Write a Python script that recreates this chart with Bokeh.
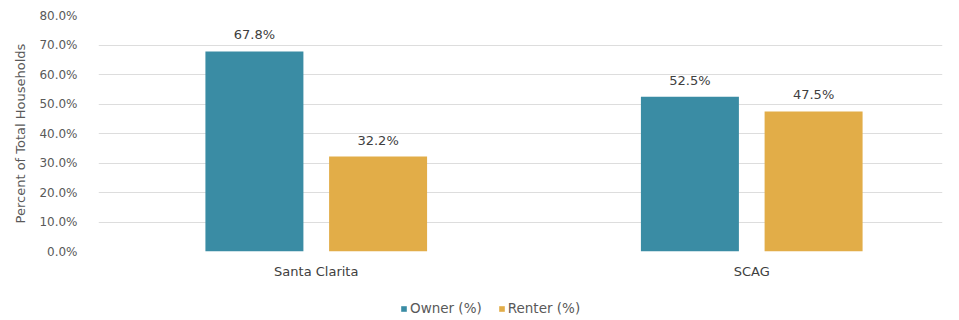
from bokeh.plotting import figure
from bokeh.layouts import column
from bokeh.models import ColumnDataSource, PrintfTickFormatter, FixedTicker, Legend, LegendItem, Range1d
from bokeh.core.properties import value
from bokeh.embed import file_html
from bokeh.resources import INLINE

categories = ["Santa Clarita", "SCAG"]
owner = [67.8, 52.5]
renter = [32.2, 47.5]
series_names = ["Owner (%)", "Renter (%)"]
y_ticks = [0, 10, 20, 30, 40, 50, 60, 70, 80]

OWNER_C = "#3A8CA4"
RENTER_C = "#E2AD48"
FONT = "DejaVu Sans"

xs = list(range(len(categories)))
off = 0.142
bw = 0.225

src_o = ColumnDataSource(dict(x=[x - off for x in xs], top=owner,
                              lab=["%.1f%%" % v for v in owner]))
src_r = ColumnDataSource(dict(x=[x + off for x in xs], top=renter,
                              lab=["%.1f%%" % v for v in renter]))

p = figure(frame_width=844, frame_height=236, output_backend="svg", toolbar_location=None,
           x_range=Range1d(-0.5, 1.438), y_range=Range1d(0, 80))
p.min_border_left = 98
p.min_border_right = 9
p.min_border_top = 15
p.min_border_bottom = 45
p.outline_line_color = None
p.background_fill_color = "white"

r_o = p.vbar(x="x", top="top", width=bw, source=src_o, fill_color=OWNER_C, line_color=None)
r_r = p.vbar(x="x", top="top", width=bw, source=src_r, fill_color=RENTER_C, line_color=None)

for s in (src_o, src_r):
    p.text(x="x", y="top", text="lab", source=s, text_align="center", text_baseline="bottom",
           y_offset=-9, text_font=value(FONT), text_font_size="13px", text_color="#404040")

p.xgrid.grid_line_color = None
p.ygrid.grid_line_color = "#DDDDDD"
p.ygrid.ticker = FixedTicker(ticks=y_ticks)

p.yaxis.ticker = FixedTicker(ticks=y_ticks)
p.yaxis.formatter = PrintfTickFormatter(format="%.1f%%")
p.yaxis.axis_line_color = None
p.yaxis.major_tick_line_color = None
p.yaxis.minor_tick_line_color = None
p.yaxis.major_label_text_font = FONT
p.yaxis.major_label_text_font_size = "12px"
p.yaxis.major_label_text_color = "#595959"
p.yaxis.major_label_standoff = 15
p.yaxis.axis_label = "Percent of Total Households"
p.yaxis.axis_label_text_font = FONT
p.yaxis.axis_label_text_font_size = "13px"
p.yaxis.axis_label_text_font_style = "normal"
p.yaxis.axis_label_text_color = "#595959"
p.yaxis.axis_label_standoff = 8

p.xaxis.ticker = FixedTicker(ticks=xs)
p.xaxis.major_label_overrides = {i: c for i, c in enumerate(categories)}
p.xaxis.axis_line_color = None
p.xaxis.major_tick_line_color = None
p.xaxis.minor_tick_line_color = None
p.xaxis.major_label_text_font = FONT
p.xaxis.major_label_text_font_size = "13px"
p.xaxis.major_label_text_color = "#404040"
p.xaxis.major_label_standoff = 6

# legend strip below the chart (renderers sit outside its visible range)
p2 = figure(width=951, height=24, output_backend="svg", toolbar_location=None,
            x_range=Range1d(-0.5, 1.438), y_range=Range1d(1000, 1001))
p2.min_border_left = 0
p2.min_border_right = 0
p2.min_border_top = 0
p2.min_border_bottom = 0
p2.outline_line_color = None
p2.axis.visible = False
p2.grid.visible = False
l_o = p2.vbar(x="x", top="top", width=bw, source=src_o, fill_color=OWNER_C, line_color=None)
l_r = p2.vbar(x="x", top="top", width=bw, source=src_r, fill_color=RENTER_C, line_color=None)

legend = Legend(items=[LegendItem(label=series_names[0], renderers=[l_o]),
                       LegendItem(label=series_names[1], renderers=[l_r])],
                orientation="horizontal", location=(302, 4),
                label_text_font=FONT, label_text_font_size="13.5px", label_text_color="#595959",
                glyph_width=7, glyph_height=7, spacing=16, padding=0, margin=0,
                border_line_color=None, background_fill_alpha=0, label_standoff=3)
p2.add_layout(legend, "center")

layout = column(p, p2, spacing=0)
open("out.html", "w").write(file_html(layout, INLINE))
